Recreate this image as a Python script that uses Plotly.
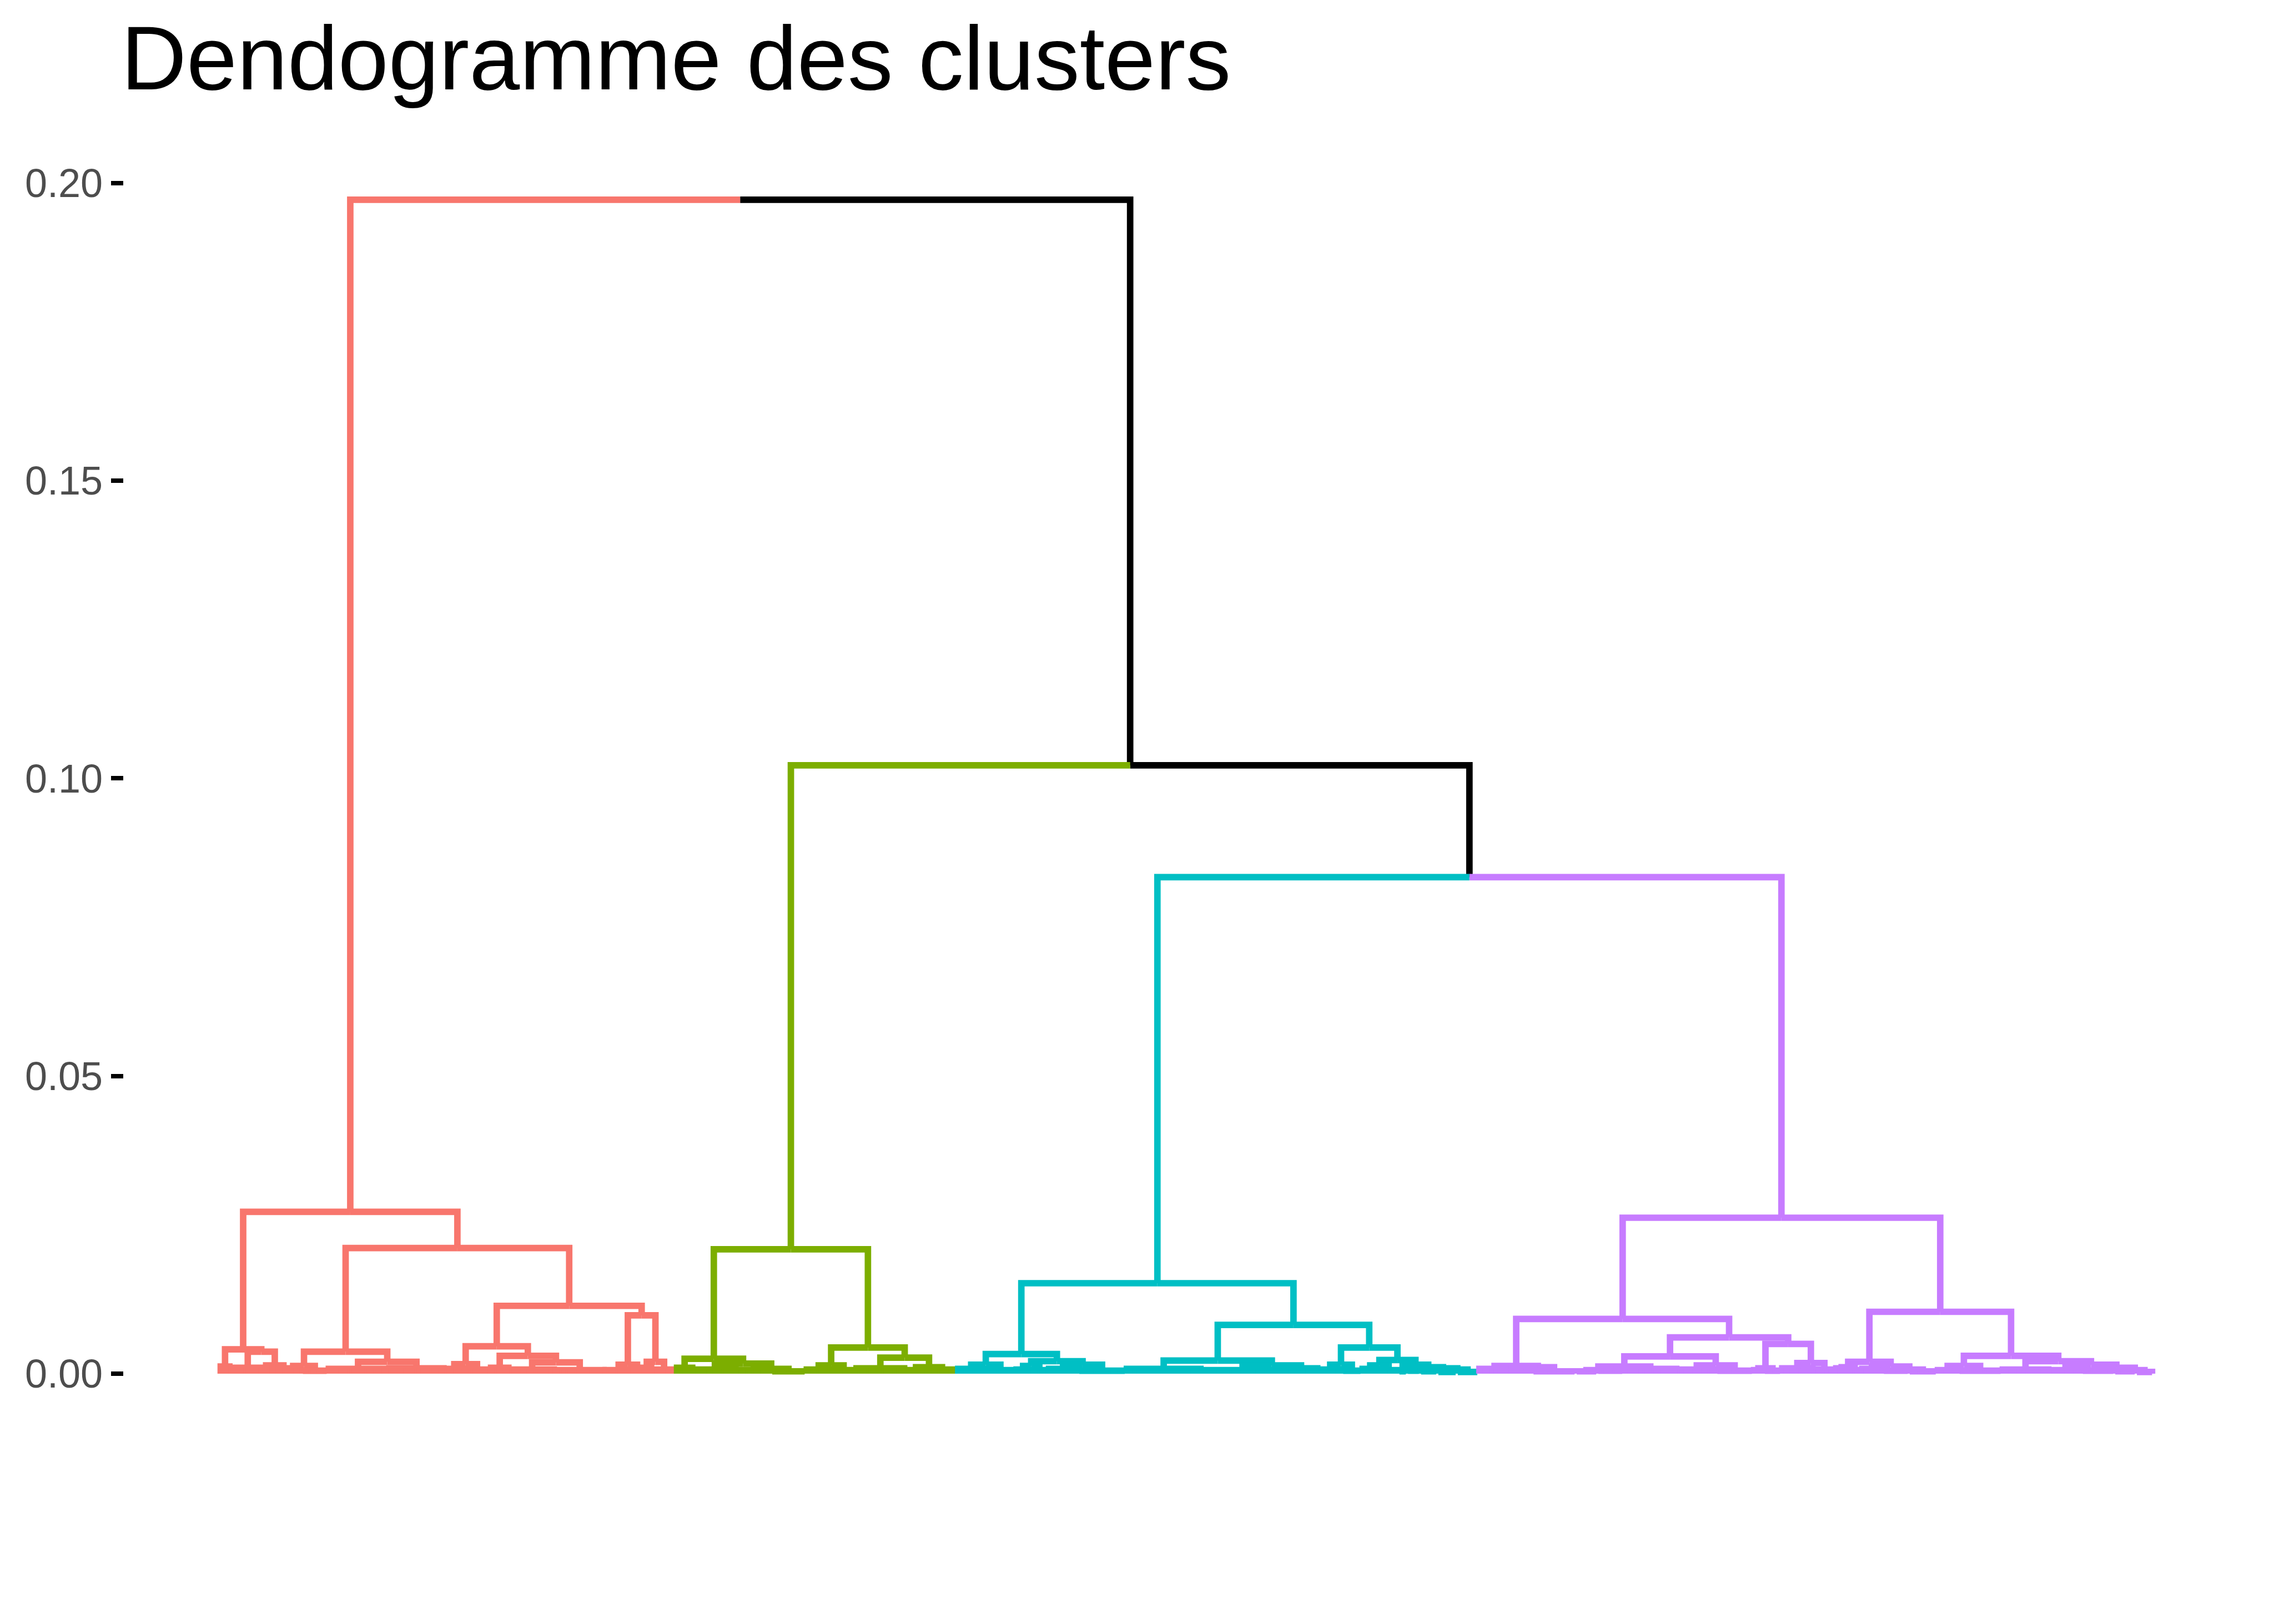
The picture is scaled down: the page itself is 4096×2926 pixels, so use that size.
import plotly.graph_objects as go

SC = 0.975
W, H = 4096, 2926

# ---------------- data ----------------
# A node is either a leaf group [n_leaves, height] or a merge [height, left, right]
red_tree = [0.0272,
            [0.0041, [5, 0.0012], [0.0037, [16, 0.0010], [9, 0.0014]]],
            [0.0211,
             [0.0037, [0.0013, [8, 0.0009], [12, 0.0005]], [0.0020, [28, 0.0008], [26, 0.0009]]],
             [0.0114,
              [0.0046, [0.0016, [9, 0.0008], [12, 0.0007]],
               [0.0030, [9, 0.0010], [0.0019, [21, 0.0007], [23, 0.0006]]]],
              [0.0098, [0.0015, [13, 0.0006], [4, 0.0008]], [0.0020, [5, 0.0010], [11, 0.0007]]]]]]

green_tree = [0.0209,
              [0.0025, [8, 0.0010], [0.0017, [20, 0.0007], [0.0008, [16, 0.0006], [16, 0.0004]]]],
              [0.0044, [0.0014, [12, 0.0007], [11, 0.0006]],
               [0.0027, [23, 0.0009], [0.0011, [10, 0.0006], [14, 0.0007]]]]]

cyan_tree = [0.0152,
             [0.0033, [0.0015, [13, 0.0008], [14, 0.0006]],
              [0.0021, [0.0013, [7, 0.0007], [8, 0.0006]], [0.0015, [14, 0.0008], [22, 0.0005]]]],
             [0.0082,
              [0.0022, [35, 0.0008], [0.0014, [38, 0.0006], [16, 0.0009]]],
              [0.0044, [0.0015, [11, 0.0007], [9, 0.0005]],
               [0.0023, [0.0014, [8, 0.0008], [9, 0.0006]],
                [0.0015, [4, 0.0004],
                 [0.0011, [6, 0.0005], [0.0009, [8, 0.0004], [0.0007, [9, 0.0003], [10, 0.0003]]]]]]]]]

purple_tree = [0.0262,
               [0.0092,
                [0.0013, [15, 0.0008], [0.0011, [10, 0.0007], [20, 0.0004]]],
                [0.0061,
                 [0.0029, [0.0012, [0.0006, [10, 0.0004], [12, 0.0005]], [25, 0.0008]],
                  [0.0014, [18, 0.0007], [17, 0.0005]]],
                 [0.0050, [0.0009, [5, 0.0006], [8, 0.0005]], [0.0018, [15, 0.0009], [10, 0.0007]]]]],
               [0.0104,
                [0.0020, [0.0011, [6, 0.0009], [6, 0.0006]],
                 [0.0012, [10, 0.0008], [0.0007, [12, 0.0005], [13, 0.0004]]]],
                [0.0030, [0.0013, [10, 0.0006], [20, 0.0005]],
                 [0.0021, [22, 0.0007],
                  [0.0015, [15, 0.0006], [0.0010, [15, 0.0005], [0.0006, [10, 0.0004], [8, 0.0003]]]]]]]]

# heights of the upper merges: root (red | rest), green | (cyan+purple), cyan | purple
top_heights = [0.1972, 0.1022, 0.0834]
cluster_colors = ["#F8766D", "#7CAE00", "#00BFC4", "#C77CFF"]
upper_color = "#000000"

y_tick_values = [0.00, 0.05, 0.10, 0.15, 0.20]
y_tick_labels = ["0.00", "0.05", "0.10", "0.15", "0.20"]
title_text = "Dendogramme des clusters"

# ---------------- layout of the tree ----------------
counter = [0]


def build(node, color):
    if len(node) == 2:
        n, h = node
        leaves = list(range(counter[0], counter[0] + n))
        counter[0] += n
        return {"x": (leaves[0] + leaves[-1]) / 2.0, "h": h, "leaves": leaves,
                "color": color, "children": []}
    h, l, r = node
    L = build(l, color)
    R = build(r, color)
    return {"x": (L["x"] + R["x"]) / 2.0, "h": h, "leaves": None, "color": color, "children": [L, R]}


red = build(red_tree, cluster_colors[0])
green = build(green_tree, cluster_colors[1])
cyan = build(cyan_tree, cluster_colors[2])
purple = build(purple_tree, cluster_colors[3])
n_leaves = counter[0]


def join(h, L, R):
    return {"x": (L["x"] + R["x"]) / 2.0, "h": h, "leaves": None, "color": upper_color, "children": [L, R]}


cp = join(top_heights[2], cyan, purple)
gcp = join(top_heights[1], green, cp)
root = join(top_heights[0], red, gcp)

segs = {}


def add(color, xs, ys):
    a = segs.setdefault(color, ([], []))
    a[0].extend(xs + [None])
    a[1].extend(ys + [None])


def draw(node):
    if node["leaves"] is not None:
        lv = node["leaves"]
        h = node["h"]
        c = node["color"]
        add(c, [lv[0], lv[0], lv[-1], lv[-1]], [0, h, h, 0])
        for x in lv[1:-1]:
            add(c, [x, x], [0, h])
        return
    for ch in node["children"]:
        add(ch["color"], [ch["x"], ch["x"], node["x"]], [ch["h"], node["h"], node["h"]])
        draw(ch)


draw(root)

fig = go.Figure()
for color, (xs, ys) in segs.items():
    fig.add_trace(go.Scatter(x=xs, y=ys, mode="lines",
                             line=dict(color=color, width=12 * SC),
                             hoverinfo="skip", showlegend=False))

# reference pixel geometry (full-size reference pixels)
first_leaf_px, last_leaf_px = 408, 3975
plot_left_px, plot_right_px = 229, 4150
plot_top_px, plot_bot_px = 250, 2700
zero_px, px_per_unit = 2538, 11000.0

step = (last_leaf_px - first_leaf_px) / (n_leaves - 1)
x_lo = (plot_left_px - first_leaf_px) / step
x_hi = (plot_right_px - first_leaf_px) / step
y_hi = (zero_px - plot_top_px) / px_per_unit
y_lo = (zero_px - plot_bot_px) / px_per_unit

fig.update_layout(
    width=W, height=H,
    paper_bgcolor="white", plot_bgcolor="white",
    margin=dict(l=plot_left_px * SC, r=(4200 - plot_right_px) * SC,
                t=plot_top_px * SC, b=(3000 - plot_bot_px) * SC, pad=0, autoexpand=False),
    title=dict(text=title_text, font=dict(family="Liberation Sans, Arial, sans-serif", size=163.5, color="black"),
               xref="container", yref="container", x=218 / W, xanchor="left",
               y=1 - 47 / H, yanchor="top"),
    xaxis=dict(range=[x_lo, x_hi], visible=False, showgrid=False, zeroline=False),
    yaxis=dict(range=[y_lo, y_hi], tickmode="array", tickvals=y_tick_values, ticktext=y_tick_labels,
               ticks="outside", ticklen=23 * SC, tickwidth=8 * SC, tickcolor="black",
               tickfont=dict(family="Liberation Sans, Arial, sans-serif", size=72, color="#4D4D4D"),
               showgrid=False, zeroline=False, showline=False),
)

fig.write_html("out.html")
